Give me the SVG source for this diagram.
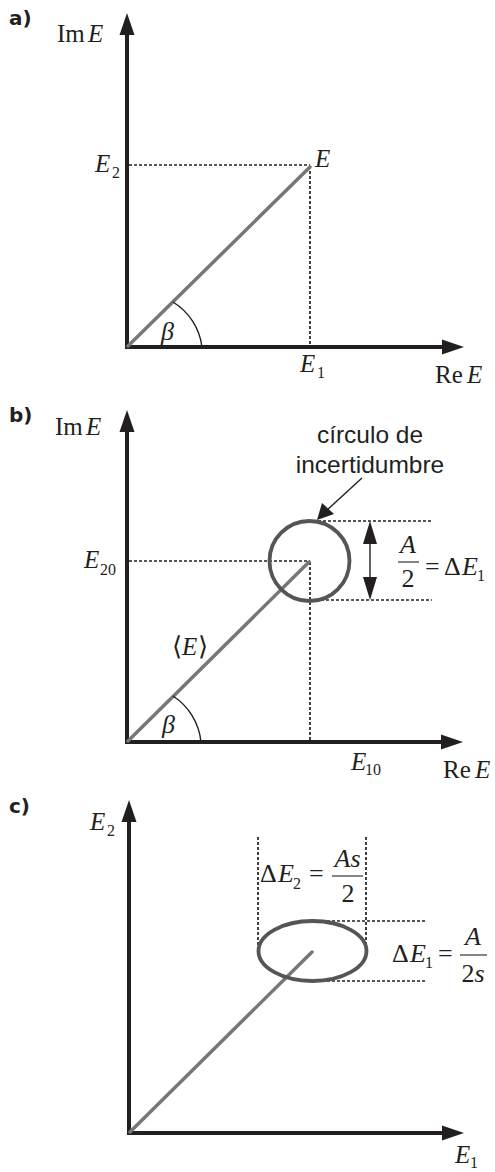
<svg xmlns="http://www.w3.org/2000/svg" width="495" height="1172" viewBox="0 0 495 1172">
<style>
.axis{stroke:#231f20;stroke-width:4;fill:none}
.vec{stroke:#777;stroke-width:3.5;fill:none;stroke-linecap:round}
.ring{stroke:#555;stroke-width:3.8;fill:none}
.dot{stroke:#231f20;stroke-width:1.7;fill:none;stroke-dasharray:3 2}
.thin{stroke:#231f20;stroke-width:1.4;fill:none}
.frac{stroke:#231f20;stroke-width:1.1;fill:none}
.head{fill:#231f20}
.m{font-family:"Liberation Serif","Times New Roman",serif;font-size:25px;fill:#231f20}
.ax{font-size:25px}
.f{font-size:26px}
.i{font-style:italic}
.sub{font-size:16px}
.lab{font-family:"DejaVu Sans","Liberation Sans",sans-serif;font-weight:bold;font-size:20px;fill:#231f20}
.sans{font-family:"Liberation Sans",Arial,sans-serif;font-size:24.5px;fill:#231f20}
</style>

<!-- Panel a -->
<g id="panel-a">
  <text class="lab" x="9" y="25">a)</text>
  <g id="a-axes">
    <line class="axis" x1="127" y1="349" x2="127" y2="32"/>
    <polygon class="head" points="127,13 119.5,35 134.5,35"/>
    <line class="axis" x1="125" y1="347" x2="444" y2="347"/>
    <polygon class="head" points="464,347 442,339.5 442,354.5"/>
  </g>
  <g id="a-guides">
    <line class="dot" x1="129" y1="165" x2="310" y2="165"/>
    <line class="dot" x1="310" y1="166" x2="310" y2="345"/>
  </g>
  <line id="a-vector" class="vec" x1="128" y1="346" x2="310" y2="167"/>
  <path id="a-arc" class="thin" d="M173,302 A62,62 0 0 1 202,347"/>
  <text class="m ax" x="57" y="42">Im</text><text class="m ax i" x="88" y="42">E</text>
  <text class="m i" x="95" y="172">E</text><text class="m sub" x="112" y="178">2</text>
  <text class="m i" x="315" y="167">E</text>
  <text class="m i" x="300" y="372">E</text><text class="m sub" x="317" y="378">1</text>
  <text class="m ax" x="435" y="383">Re</text><text class="m ax i" x="467" y="383">E</text>
  <text class="m f i" x="161" y="340">β</text>
</g>

<!-- Panel b -->
<g id="panel-b">
  <text class="lab" x="9" y="422">b)</text>
  <g id="b-axes">
    <line class="axis" x1="127" y1="744" x2="127" y2="428"/>
    <polygon class="head" points="127,410 119.5,432 134.5,432"/>
    <line class="axis" x1="125" y1="742" x2="443" y2="742"/>
    <polygon class="head" points="463,742 441,734.5 441,749.5"/>
  </g>
  <g id="b-guides">
    <line class="dot" x1="129" y1="561" x2="310" y2="561"/>
    <line class="dot" x1="310" y1="562" x2="310" y2="740"/>
    <line class="dot" x1="313" y1="521" x2="432" y2="521"/>
    <line class="dot" x1="311" y1="600" x2="432" y2="600"/>
  </g>
  <line id="b-vector" class="vec" x1="128" y1="741" x2="309" y2="562"/>
  <circle id="b-circle" class="ring" cx="309.5" cy="561" r="40"/>
  <path id="b-arc" class="thin" d="M173,696 A62,62 0 0 1 201,742"/>
  <g id="b-dim">
    <line class="thin" x1="370" y1="540" x2="370" y2="582"/>
    <polygon class="head" points="370,521 363,544 377,544"/>
    <polygon class="head" points="370,600 363,577 377,577"/>
  </g>
  <g id="b-pointer">
    <line class="thin" x1="362" y1="478" x2="326" y2="511"/>
    <polygon class="head" points="317,520 322,503 334,514"/>
  </g>
  <text class="sans" x="370" y="443" text-anchor="middle">círculo de</text>
  <text class="sans" x="370" y="473" text-anchor="middle">incertidumbre</text>
  <text class="m ax" x="55" y="435">Im</text><text class="m ax i" x="86" y="435">E</text>
  <text class="m i" x="84" y="568">E</text><text class="m sub" x="100" y="575">20</text>
  <text class="m i" x="351" y="770">E</text><text class="m sub" x="365" y="775">10</text>
  <text class="m ax" x="443" y="778">Re</text><text class="m ax i" x="475" y="778">E</text>
  <g id="b-mean">
    <text class="m f" x="172" y="655">⟨</text>
    <text class="m i" x="182" y="655">E</text>
    <text class="m f" x="198" y="655">⟩</text>
  </g>
  <text class="m f i" x="162" y="733">β</text>
  <g id="b-formula">
    <text class="m f i" x="408" y="553" text-anchor="middle">A</text>
    <line class="frac" x1="398" y1="562" x2="419" y2="562"/>
    <text class="m f" x="408" y="587" text-anchor="middle">2</text>
    <text class="m f" x="425" y="575">=</text>
    <text class="m f" x="444" y="575">Δ</text>
    <text class="m f i" x="462" y="575">E</text>
    <text class="m sub" x="477" y="581">1</text>
  </g>
</g>

<!-- Panel c -->
<g id="panel-c">
  <text class="lab" x="9" y="813">c)</text>
  <g id="c-axes">
    <line class="axis" x1="129" y1="1135" x2="129" y2="818"/>
    <polygon class="head" points="129,800 121.5,822 136.5,822"/>
    <line class="axis" x1="127" y1="1133" x2="444" y2="1133"/>
    <polygon class="head" points="464,1133 442,1125.5 442,1140.5"/>
  </g>
  <g id="c-guides">
    <line class="dot" x1="258" y1="837" x2="258" y2="948"/>
    <line class="dot" x1="366" y1="837" x2="366" y2="953"/>
    <line class="dot" x1="312" y1="921" x2="427" y2="921"/>
    <line class="dot" x1="312" y1="981" x2="427" y2="981"/>
  </g>
  <line id="c-vector" class="vec" x1="130" y1="1132" x2="312" y2="952"/>
  <ellipse id="c-ellipse" class="ring" cx="312.5" cy="951" rx="54" ry="30"/>
  <text class="m i" x="90" y="830">E</text><text class="m sub" x="107" y="836">2</text>
  <text class="m i" x="455" y="1163">E</text><text class="m sub" x="470" y="1168">1</text>
  <g id="c-formula2">
    <text class="m f" x="260" y="882">Δ</text>
    <text class="m f i" x="278" y="882">E</text>
    <text class="m sub" x="293" y="889">2</text>
    <text class="m f" x="309" y="882">=</text>
    <text class="m f i" x="347.5" y="867" text-anchor="middle">As</text>
    <line class="frac" x1="332" y1="876" x2="363" y2="876"/>
    <text class="m f" x="348" y="902" text-anchor="middle">2</text>
  </g>
  <g id="c-formula1">
    <text class="m f" x="392" y="962">Δ</text>
    <text class="m f i" x="410" y="962">E</text>
    <text class="m sub" x="425" y="968">1</text>
    <text class="m f" x="438" y="962">=</text>
    <text class="m f i" x="473" y="945" text-anchor="middle">A</text>
    <line class="frac" x1="460" y1="955" x2="487" y2="955"/>
    <text class="m f" x="473" y="982" text-anchor="middle">2<tspan class="i">s</tspan></text>
  </g>
</g>
</svg>
